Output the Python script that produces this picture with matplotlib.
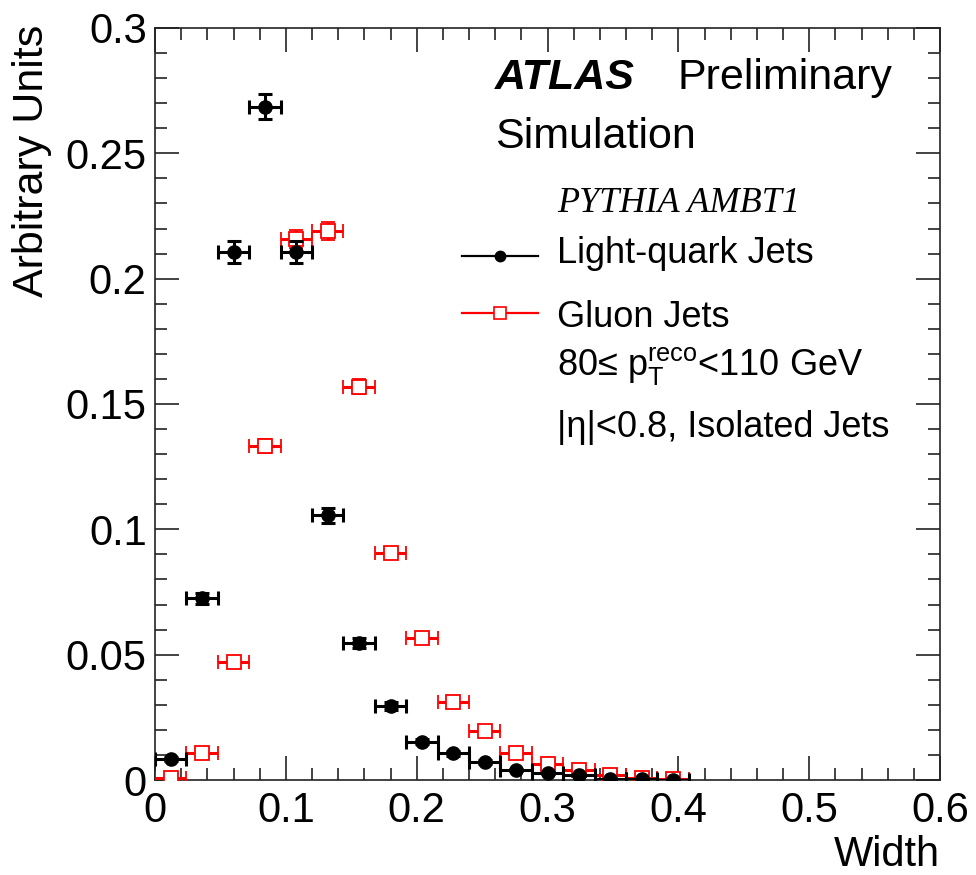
import matplotlib
matplotlib.use("Agg")
import matplotlib.pyplot as plt
from matplotlib.lines import Line2D
from matplotlib.ticker import MultipleLocator, FuncFormatter

plt.rcParams["font.family"] = ["Liberation Sans", "DejaVu Sans"]
plt.rcParams["mathtext.fontset"] = "custom"
plt.rcParams["mathtext.rm"] = "Liberation Sans"
plt.rcParams["mathtext.it"] = "Liberation Sans"

# Jet width bins (centres) and half bin width
width_centres = [0.012, 0.036, 0.060, 0.084, 0.108, 0.132, 0.156, 0.180, 0.204,
                 0.228, 0.252, 0.276, 0.300, 0.324, 0.348, 0.372, 0.396]
half_bin = 0.012

# Normalised distributions
light_quark = [0.0084, 0.0726, 0.2106, 0.2686, 0.2106, 0.1057, 0.0545, 0.0296, 0.0153,
               0.0106, 0.0071, 0.0040, 0.0027, 0.0020, 0.0003, 0.0002, 0.0001]
light_quark_err = [0.0008, 0.0022, 0.0045, 0.0050, 0.0045, 0.0030, 0.0020, 0.0015, 0.0010,
                   0.0009, 0.0007, 0.0005, 0.0004, 0.0004, 0.0002, 0.0002, 0.0001]

gluon = [0.0009, 0.0106, 0.0469, 0.1333, 0.2158, 0.2191, 0.1569, 0.0907, 0.0565,
         0.0310, 0.0195, 0.0109, 0.0063, 0.0040, 0.0020, 0.0009, 0.0002]
gluon_err = [0.0003, 0.0008, 0.0017, 0.0028, 0.0035, 0.0035, 0.0030, 0.0023, 0.0018,
             0.0013, 0.0010, 0.0008, 0.0006, 0.0005, 0.0003, 0.0002, 0.0001]

fig = plt.figure(figsize=(9.76, 8.75), dpi=100)
ax = fig.add_axes([155 / 976, 1 - 780 / 875, 785 / 976, 752 / 875])

# Gluon jets: open red squares
ax.errorbar(width_centres, gluon, xerr=half_bin, yerr=gluon_err, fmt="s",
            color="red", mfc="white", mec="red", mew=1.3, ms=9.5,
            elinewidth=2.2, capsize=5, capthick=2.2, zorder=3)
# Light-quark jets: filled black circles
ax.errorbar(width_centres, light_quark, xerr=half_bin, yerr=light_quark_err, fmt="o",
            color="black", ms=9.5, elinewidth=2.2, capsize=5, capthick=2.2, zorder=4)

ax.set_xlim(0, 0.6)
ax.set_ylim(0, 0.3)

fmt = FuncFormatter(lambda v, p: "0" if abs(v) < 1e-9 else f"{v:g}")
ax.xaxis.set_major_locator(MultipleLocator(0.1))
ax.xaxis.set_minor_locator(MultipleLocator(0.02))
ax.yaxis.set_major_locator(MultipleLocator(0.05))
ax.yaxis.set_minor_locator(MultipleLocator(0.01))
ax.xaxis.set_major_formatter(fmt)
ax.yaxis.set_major_formatter(fmt)

ax.tick_params(which="both", direction="in", top=True, right=True,
               width=1.2, labelsize=30, color="#222222")
ax.tick_params(which="major", length=17)
ax.tick_params(which="minor", length=8.5)
ax.tick_params(axis="x", pad=8)
ax.tick_params(axis="y", pad=6)
for s in ax.spines.values():
    s.set_linewidth(1.2)
    s.set_color("#222222")

ax.set_xlabel("Width", fontsize=30, loc="right", va="baseline")
ax.xaxis.set_label_coords(1.0, -0.114)
ax.set_ylabel("Arbitrary Units", fontsize=31, loc="top")
ax.yaxis.set_label_coords(-0.131, 1.004)

# Experiment label
ax.text(0.433, 0.919, "ATLAS", transform=ax.transAxes, fontsize=31,
        fontweight="bold", fontstyle="italic", ha="left", va="baseline")
ax.text(0.665, 0.919, "Preliminary", transform=ax.transAxes, fontsize=31,
        ha="left", va="baseline")
ax.text(0.433, 0.840, "Simulation", transform=ax.transAxes, fontsize=31,
        ha="left", va="baseline")

ax.text(0.512, 0.755, "PYTHIA AMBT1", transform=ax.transAxes, fontsize=26,
        family="Liberation Serif", fontstyle="italic", ha="left", va="baseline")

# Legend entries
ax.add_line(Line2D([0.391, 0.488], [0.697, 0.697], transform=ax.transAxes,
                   color="black", lw=1.6))
ax.add_line(Line2D([0.4395], [0.697], transform=ax.transAxes, color="black",
                   marker="o", ms=7.5, ls="none"))
ax.text(0.512, 0.6875, "Light-quark Jets", transform=ax.transAxes, fontsize=26,
        ha="left", va="baseline")

ax.add_line(Line2D([0.391, 0.488], [0.621, 0.621], transform=ax.transAxes,
                   color="red", lw=1.6))
ax.add_line(Line2D([0.4395], [0.621], transform=ax.transAxes, color="red",
                   marker="s", ms=8.5, mfc="white", mec="red", mew=1.2, ls="none"))
ax.text(0.512, 0.602, "Gluon Jets", transform=ax.transAxes, fontsize=26,
        ha="left", va="baseline")

ax.text(0.512, 0.5386, "80\u2264 $\\mathregular{p_T^{reco}}$<110 GeV",
        transform=ax.transAxes, fontsize=26, ha="left", va="baseline")
ax.text(0.512, 0.456, "|\u03b7|<0.8, Isolated Jets", transform=ax.transAxes,
        fontsize=26, ha="left", va="baseline")

fig.savefig("out.png", dpi=100)
